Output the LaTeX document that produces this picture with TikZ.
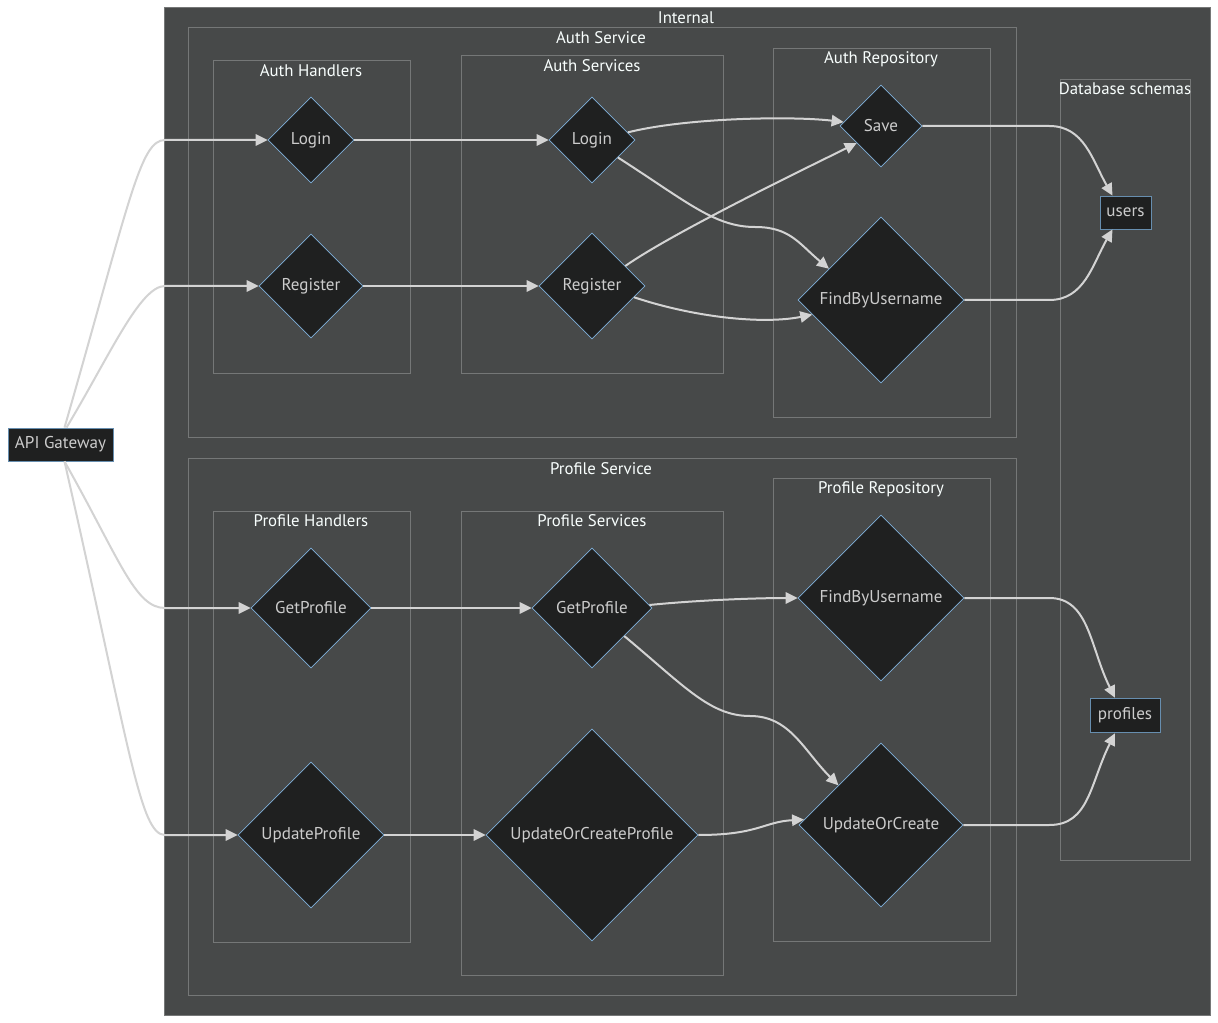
\documentclass[tikz,border=0pt]{standalone}
\usepackage{fontspec}
\setmainfont{PT Sans}
\usetikzlibrary{shapes.geometric,arrows.meta}
\definecolor{clbg}{HTML}{474949}
\definecolor{clbd}{HTML}{757777}
\definecolor{ndbg}{HTML}{1F2020}
\definecolor{ndbd}{HTML}{81B1DB}
\definecolor{ndtx}{HTML}{CCCCCC}
\definecolor{tttx}{HTML}{F9FFFE}
\definecolor{edg}{HTML}{D3D3D3}
\begin{document}
\begin{tikzpicture}[x=0.75pt,y=-0.75pt,
  cluster/.style={draw=clbd,fill=clbg,line width=0.75pt},
  ctitle/.style={text=tttx,font=\fontsize{12.6}{14}\selectfont,inner sep=0pt},
  dia/.style={diamond,aspect=1,draw=ndbd,fill=ndbg,line width=0.5pt,text=ndtx,
    font=\fontsize{12.8}{14}\selectfont,inner sep=0pt,
    minimum width={#1*1.5pt},minimum height={#1*1.5pt}},
  rbox/.style={draw=ndbd!80!black,fill=ndbg,line width=0.6pt,text=ndtx,
    font=\fontsize{12.8}{14}\selectfont,inner sep=0pt},
  edge/.style={draw=edg,line width=1.5pt,-{Triangle[length=9pt,width=8.5pt]}}]
\useasboundingbox[fill=white] (0,0) rectangle (1218,1023);
% clusters
\draw[cluster] (164,8) rectangle (1210,1015);
\node[ctitle] (tint) at (686,18) {Internal};
\draw[cluster] (188,28) rectangle (1016,438);
\node[ctitle] (tas) at (601,38) {Auth Service};
\draw[cluster] (213,61) rectangle (410,374);
\node[ctitle] (tah) at (311,71) {Auth Handlers};
\draw[cluster] (461,56) rectangle (723,374);
\node[ctitle] (tasv) at (592,66) {Auth Services};
\draw[cluster] (773,49) rectangle (990,418);
\node[ctitle] (tar) at (881,59) {Auth Repository};
\draw[cluster] (1060,80) rectangle (1190,860);
\node[ctitle] (tdb) at (1125,89) {Database schemas};
\draw[cluster] (188,459) rectangle (1016,995);
\node[ctitle] (tps) at (601,469) {Profile Service};
\draw[cluster] (213,512) rectangle (410,942);
\node[ctitle] (tph) at (311,521) {Profile Handlers};
\draw[cluster] (461,512) rectangle (723,975);
\node[ctitle] (tpsv) at (592,521) {Profile Services};
\draw[cluster] (773,479) rectangle (990,941);
\node[ctitle] (tpr) at (881,489) {Profile Repository};
% nodes
\node[rbox,minimum width=78.75pt,minimum height=24.75pt] (gw) at (60.5,444.5) {API Gateway};
\node[rbox,minimum width=38.25pt,minimum height=24.75pt] (users) at (1125.5,212.5) {users};
\node[rbox,minimum width=52.5pt,minimum height=26pt] (profiles) at (1125,715.5) {profiles};
\node[dia=43] (lh) at (311,140) {Login};
\node[dia=52] (rh) at (311,286) {Register};
\node[dia=43] (ls) at (592,140) {Login};
\node[dia=53] (rs) at (592,286) {Register};
\node[dia=41] (save) at (881,126) {Save};
\node[dia=83] (fa) at (881,300) {FindByUsername};
\node[dia=60] (gh) at (311,608) {GetProfile};
\node[dia=73] (uh) at (311,835) {UpdateProfile};
\node[dia=60] (gs) at (592,608) {GetProfile};
\node[dia=106] (us) at (592,835) {UpdateOrCreateProfile};
\node[dia=83] (fp) at (881,598) {FindByUsername};
\node[dia=82] (uoc) at (881,825) {UpdateOrCreate};
% gateway edges
\draw[edge] ([xshift=3pt]gw.north) .. controls (130,200) and (140,140) .. (165,140) -- (lh.west);
\draw[edge] ([xshift=4.5pt]gw.north) .. controls (110,355) and (140,286) .. (165,286) -- (rh.west);
\draw[edge] ([xshift=3pt]gw.south) .. controls (120,560) and (135,608) .. (165,608) -- (gh.west);
\draw[edge] ([xshift=3pt]gw.south) .. controls (130,750) and (140,835) .. (165,835) -- (uh.west);
% handler -> service
\draw[edge] (lh.east) -- (ls.west);
\draw[edge] (rh.east) -- (rs.west);
\draw[edge] (gh.east) -- (gs.west);
\draw[edge] (uh.east) -- (us.west);
% service -> repository
\draw[edge] (ls.12) .. controls +(60,-15) and +(-50,-6) .. (save.174);
\draw[edge] (ls.-34) .. controls +(70,45) and +(-40,0) .. (755,227) .. controls +(35,0) and +(-30,-25) .. (fa.149);
\draw[edge] (rs.31) .. controls +(50,-35) and +(-40,20) .. (save.-145);
\draw[edge] (rs.-15) .. controls +(60,20) and +(-50,10) .. (fa.-168);
\draw[edge] (gs.3) .. controls +(50,-5) and +(-40,0) .. (fp.west);
\draw[edge] (gs.-41) .. controls +(60,50) and +(-40,0) .. (750,716) .. controls +(40,0) and +(-35,-35) .. (uoc.137);
\draw[edge] (us.east) .. controls +(60,0) and +(-40,2) .. (uoc.176);
% repository -> schemas
\draw[edge] (save.east) -- ++(127,0) .. controls +(35,0) and +(-20,-35) .. ([xshift=-9.75pt]users.north);
\draw[edge] (fa.east) -- ++(85,0) .. controls +(35,0) and +(-20,35) .. ([xshift=-9.75pt]users.south);
\draw[edge] (fp.east) -- ++(85,0) .. controls +(40,0) and +(-25,-50) .. ([xshift=-7.5pt]profiles.north);
\draw[edge] (uoc.east) -- ++(86,0) .. controls +(40,0) and +(-25,50) .. ([xshift=-7.5pt]profiles.south);
\end{tikzpicture}
\end{document}
